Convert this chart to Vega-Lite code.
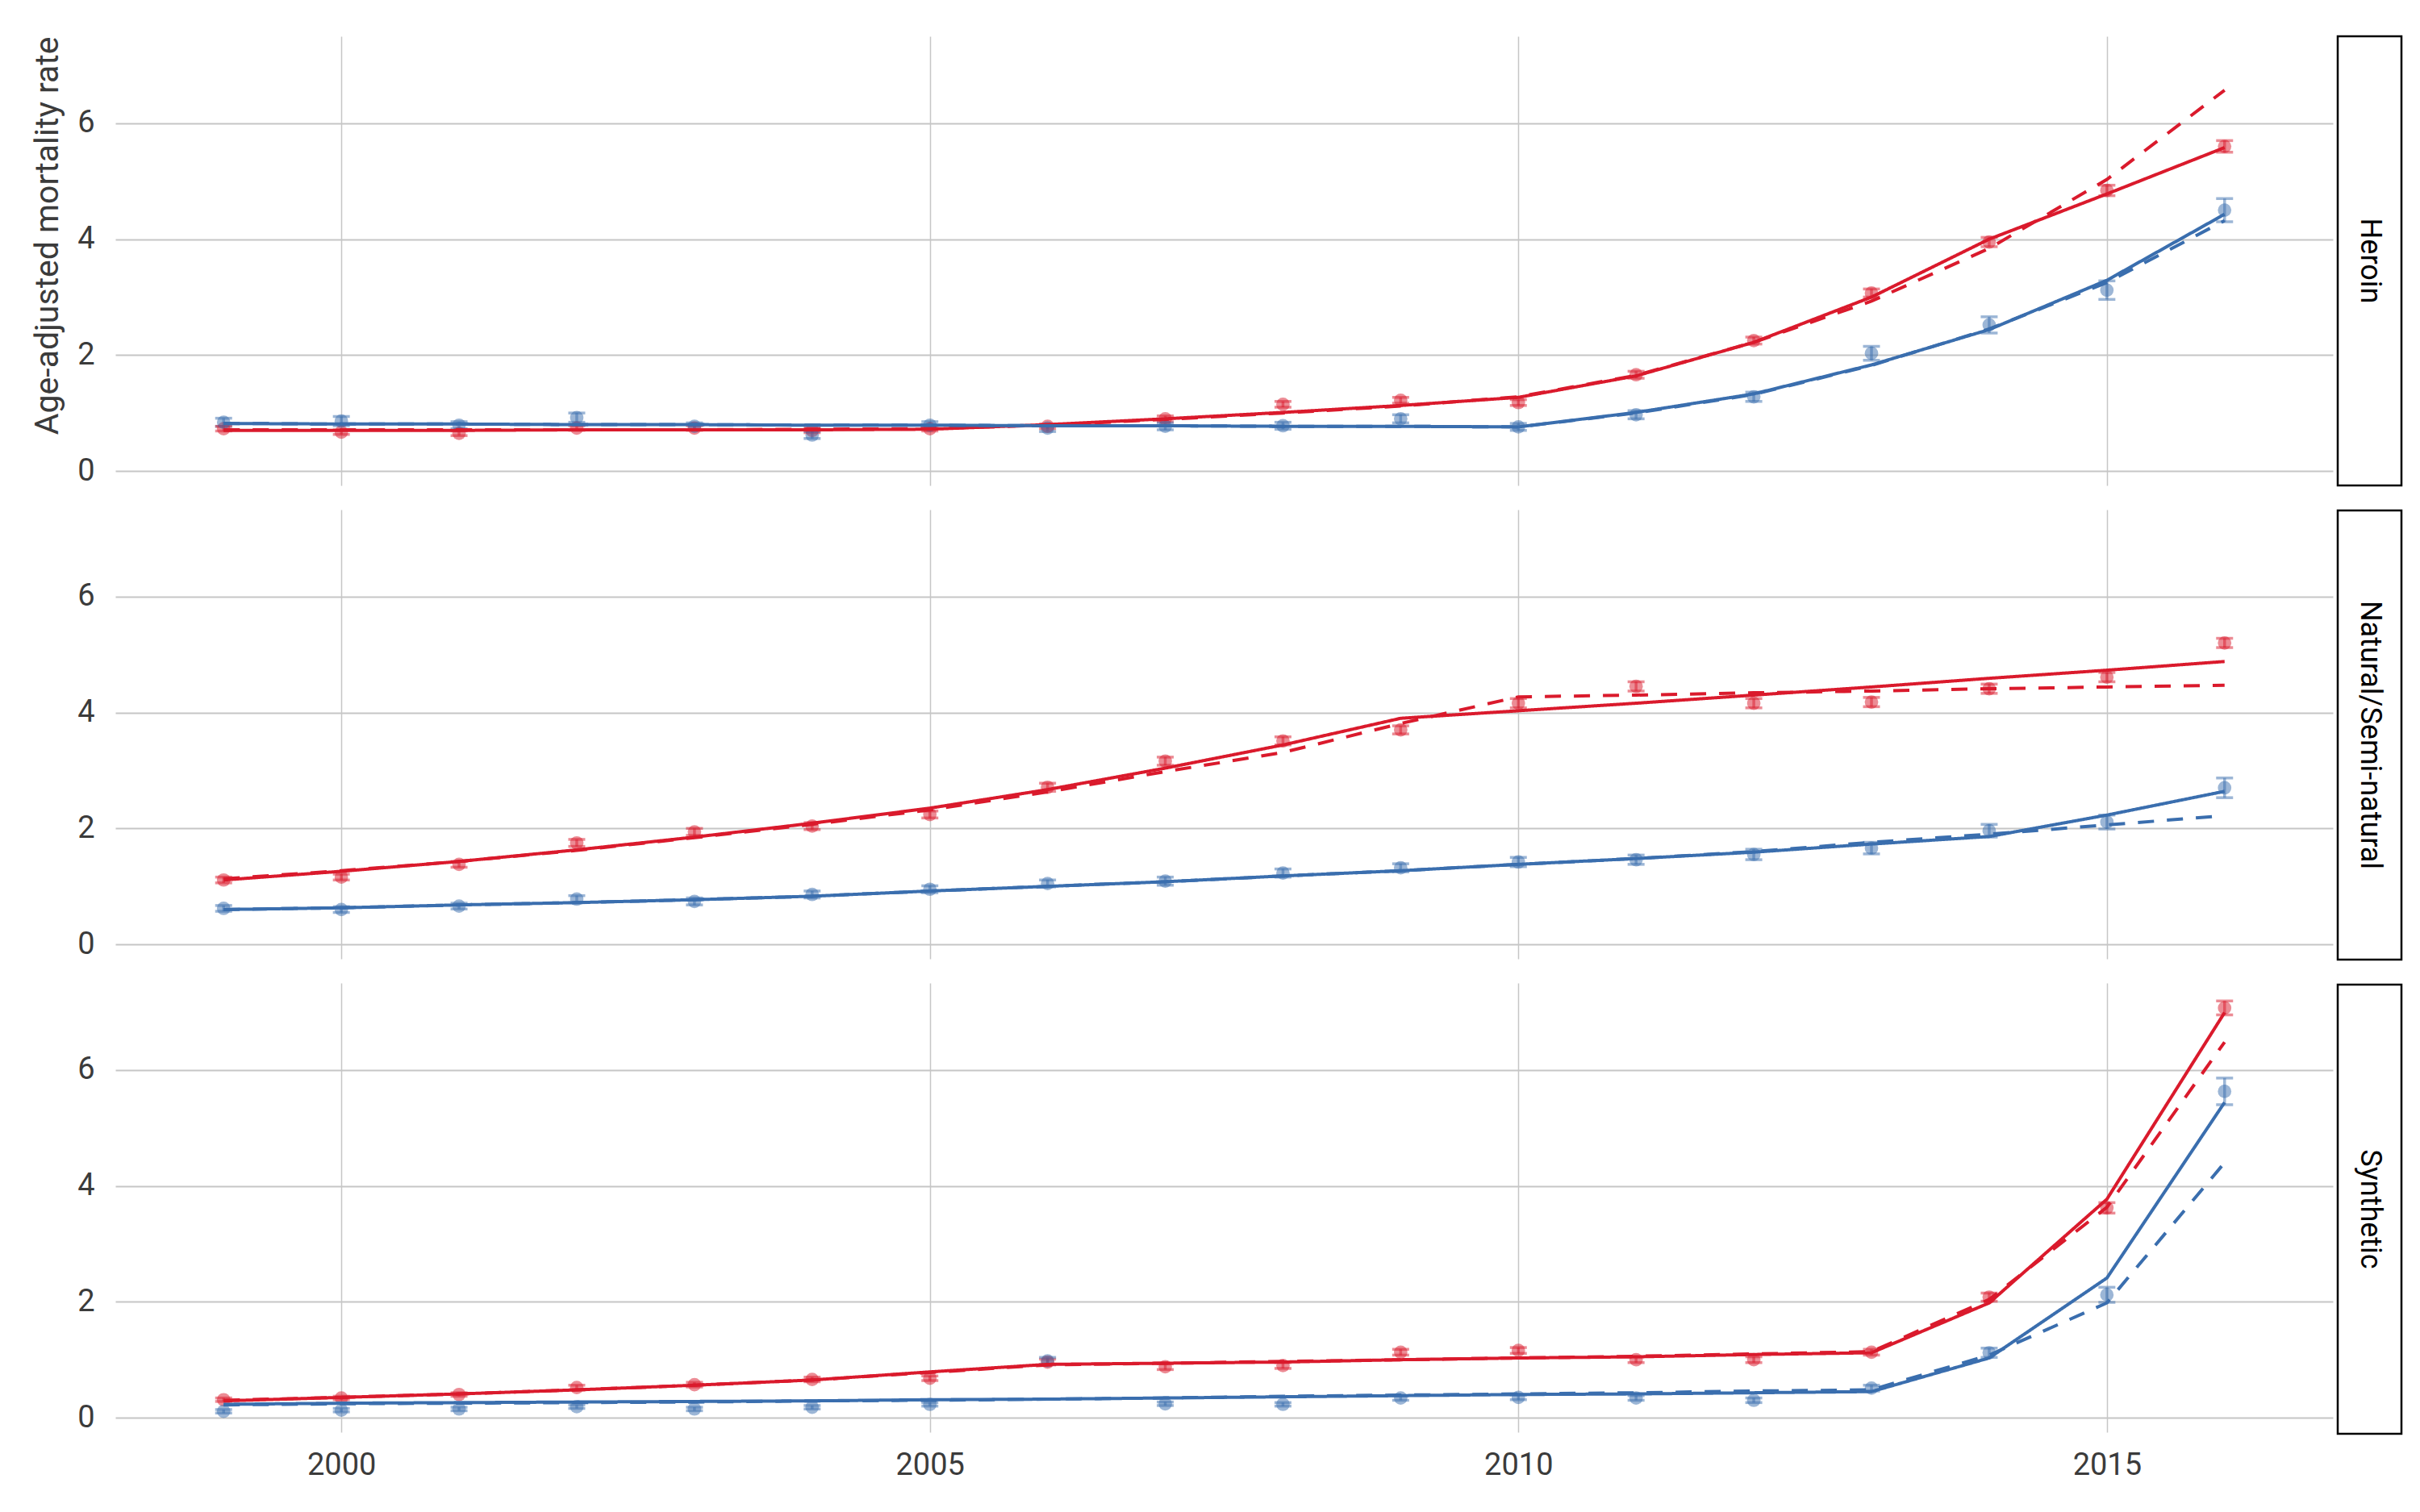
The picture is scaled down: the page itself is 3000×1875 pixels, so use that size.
{
  "$schema": "https://vega.github.io/schema/vega-lite/v6.json",
  "background": "white",
  "padding": {"left": 38, "top": 43, "right": 0, "bottom": 0},
  "datasets": {
    "panels": [
      {"drug": "Heroin"},
      {"drug": "Natural/Semi-natural"},
      {"drug": "Synthetic"}
    ],
    "rates": [
      {"drug": "Heroin", "sex": "Male", "year": 1999, "rate": 0.73, "lo": 0.69, "hi": 0.77, "fit1": 0.70, "fit2": 0.71},
      {"drug": "Heroin", "sex": "Male", "year": 2000, "rate": 0.67, "lo": 0.63, "hi": 0.71, "fit1": 0.70, "fit2": 0.71},
      {"drug": "Heroin", "sex": "Male", "year": 2001, "rate": 0.65, "lo": 0.61, "hi": 0.69, "fit1": 0.70, "fit2": 0.71},
      {"drug": "Heroin", "sex": "Male", "year": 2002, "rate": 0.74, "lo": 0.70, "hi": 0.78, "fit1": 0.71, "fit2": 0.71},
      {"drug": "Heroin", "sex": "Male", "year": 2003, "rate": 0.74, "lo": 0.70, "hi": 0.78, "fit1": 0.71, "fit2": 0.71},
      {"drug": "Heroin", "sex": "Male", "year": 2004, "rate": 0.70, "lo": 0.66, "hi": 0.74, "fit1": 0.71, "fit2": 0.72},
      {"drug": "Heroin", "sex": "Male", "year": 2005, "rate": 0.73, "lo": 0.69, "hi": 0.77, "fit1": 0.72, "fit2": 0.73},
      {"drug": "Heroin", "sex": "Male", "year": 2006, "rate": 0.77, "lo": 0.73, "hi": 0.81, "fit1": 0.80, "fit2": 0.79},
      {"drug": "Heroin", "sex": "Male", "year": 2007, "rate": 0.90, "lo": 0.85, "hi": 0.95, "fit1": 0.90, "fit2": 0.89},
      {"drug": "Heroin", "sex": "Male", "year": 2008, "rate": 1.15, "lo": 1.10, "hi": 1.20, "fit1": 1.01, "fit2": 1.00},
      {"drug": "Heroin", "sex": "Male", "year": 2009, "rate": 1.22, "lo": 1.17, "hi": 1.27, "fit1": 1.13, "fit2": 1.12},
      {"drug": "Heroin", "sex": "Male", "year": 2010, "rate": 1.18, "lo": 1.13, "hi": 1.23, "fit1": 1.27, "fit2": 1.28},
      {"drug": "Heroin", "sex": "Male", "year": 2011, "rate": 1.66, "lo": 1.60, "hi": 1.72, "fit1": 1.64, "fit2": 1.65},
      {"drug": "Heroin", "sex": "Male", "year": 2012, "rate": 2.25, "lo": 2.19, "hi": 2.31, "fit1": 2.22, "fit2": 2.22},
      {"drug": "Heroin", "sex": "Male", "year": 2013, "rate": 3.07, "lo": 3.00, "hi": 3.14, "fit1": 3.00, "fit2": 2.93},
      {"drug": "Heroin", "sex": "Male", "year": 2014, "rate": 3.95, "lo": 3.87, "hi": 4.03, "fit1": 4.00, "fit2": 3.84},
      {"drug": "Heroin", "sex": "Male", "year": 2015, "rate": 4.84, "lo": 4.75, "hi": 4.93, "fit1": 4.78, "fit2": 5.03},
      {"drug": "Heroin", "sex": "Male", "year": 2016, "rate": 5.60, "lo": 5.50, "hi": 5.70, "fit1": 5.58, "fit2": 6.57},
      {"drug": "Heroin", "sex": "Female", "year": 1999, "rate": 0.84, "lo": 0.77, "hi": 0.91, "fit1": 0.82, "fit2": 0.82},
      {"drug": "Heroin", "sex": "Female", "year": 2000, "rate": 0.86, "lo": 0.78, "hi": 0.94, "fit1": 0.81, "fit2": 0.81},
      {"drug": "Heroin", "sex": "Female", "year": 2001, "rate": 0.79, "lo": 0.73, "hi": 0.85, "fit1": 0.81, "fit2": 0.81},
      {"drug": "Heroin", "sex": "Female", "year": 2002, "rate": 0.92, "lo": 0.84, "hi": 1.00, "fit1": 0.80, "fit2": 0.80},
      {"drug": "Heroin", "sex": "Female", "year": 2003, "rate": 0.77, "lo": 0.71, "hi": 0.83, "fit1": 0.80, "fit2": 0.80},
      {"drug": "Heroin", "sex": "Female", "year": 2004, "rate": 0.62, "lo": 0.56, "hi": 0.68, "fit1": 0.79, "fit2": 0.79},
      {"drug": "Heroin", "sex": "Female", "year": 2005, "rate": 0.79, "lo": 0.73, "hi": 0.85, "fit1": 0.79, "fit2": 0.79},
      {"drug": "Heroin", "sex": "Female", "year": 2006, "rate": 0.74, "lo": 0.68, "hi": 0.80, "fit1": 0.78, "fit2": 0.78},
      {"drug": "Heroin", "sex": "Female", "year": 2007, "rate": 0.77, "lo": 0.71, "hi": 0.83, "fit1": 0.78, "fit2": 0.78},
      {"drug": "Heroin", "sex": "Female", "year": 2008, "rate": 0.78, "lo": 0.72, "hi": 0.84, "fit1": 0.77, "fit2": 0.77},
      {"drug": "Heroin", "sex": "Female", "year": 2009, "rate": 0.90, "lo": 0.83, "hi": 0.97, "fit1": 0.77, "fit2": 0.77},
      {"drug": "Heroin", "sex": "Female", "year": 2010, "rate": 0.76, "lo": 0.70, "hi": 0.82, "fit1": 0.76, "fit2": 0.76},
      {"drug": "Heroin", "sex": "Female", "year": 2011, "rate": 0.97, "lo": 0.90, "hi": 1.04, "fit1": 1.01, "fit2": 1.00},
      {"drug": "Heroin", "sex": "Female", "year": 2012, "rate": 1.28, "lo": 1.20, "hi": 1.36, "fit1": 1.33, "fit2": 1.32},
      {"drug": "Heroin", "sex": "Female", "year": 2013, "rate": 2.03, "lo": 1.91, "hi": 2.15, "fit1": 1.83, "fit2": 1.82},
      {"drug": "Heroin", "sex": "Female", "year": 2014, "rate": 2.52, "lo": 2.38, "hi": 2.66, "fit1": 2.44, "fit2": 2.45},
      {"drug": "Heroin", "sex": "Female", "year": 2015, "rate": 3.12, "lo": 2.96, "hi": 3.28, "fit1": 3.29, "fit2": 3.25},
      {"drug": "Heroin", "sex": "Female", "year": 2016, "rate": 4.50, "lo": 4.30, "hi": 4.70, "fit1": 4.43, "fit2": 4.32},
      {"drug": "Natural/Semi-natural", "sex": "Male", "year": 1999, "rate": 1.11, "lo": 1.06, "hi": 1.16, "fit1": 1.11, "fit2": 1.13},
      {"drug": "Natural/Semi-natural", "sex": "Male", "year": 2000, "rate": 1.16, "lo": 1.11, "hi": 1.21, "fit1": 1.26, "fit2": 1.27},
      {"drug": "Natural/Semi-natural", "sex": "Male", "year": 2001, "rate": 1.38, "lo": 1.33, "hi": 1.43, "fit1": 1.43, "fit2": 1.43},
      {"drug": "Natural/Semi-natural", "sex": "Male", "year": 2002, "rate": 1.75, "lo": 1.69, "hi": 1.81, "fit1": 1.63, "fit2": 1.62},
      {"drug": "Natural/Semi-natural", "sex": "Male", "year": 2003, "rate": 1.94, "lo": 1.88, "hi": 2.00, "fit1": 1.85, "fit2": 1.84},
      {"drug": "Natural/Semi-natural", "sex": "Male", "year": 2004, "rate": 2.04, "lo": 1.98, "hi": 2.10, "fit1": 2.09, "fit2": 2.07},
      {"drug": "Natural/Semi-natural", "sex": "Male", "year": 2005, "rate": 2.24, "lo": 2.18, "hi": 2.30, "fit1": 2.35, "fit2": 2.32},
      {"drug": "Natural/Semi-natural", "sex": "Male", "year": 2006, "rate": 2.71, "lo": 2.64, "hi": 2.78, "fit1": 2.67, "fit2": 2.63},
      {"drug": "Natural/Semi-natural", "sex": "Male", "year": 2007, "rate": 3.16, "lo": 3.09, "hi": 3.23, "fit1": 3.04, "fit2": 2.98},
      {"drug": "Natural/Semi-natural", "sex": "Male", "year": 2008, "rate": 3.51, "lo": 3.44, "hi": 3.58, "fit1": 3.44, "fit2": 3.31},
      {"drug": "Natural/Semi-natural", "sex": "Male", "year": 2009, "rate": 3.70, "lo": 3.63, "hi": 3.77, "fit1": 3.90, "fit2": 3.81},
      {"drug": "Natural/Semi-natural", "sex": "Male", "year": 2010, "rate": 4.16, "lo": 4.08, "hi": 4.24, "fit1": 4.03, "fit2": 4.27},
      {"drug": "Natural/Semi-natural", "sex": "Male", "year": 2011, "rate": 4.45, "lo": 4.37, "hi": 4.53, "fit1": 4.16, "fit2": 4.30},
      {"drug": "Natural/Semi-natural", "sex": "Male", "year": 2012, "rate": 4.16, "lo": 4.08, "hi": 4.24, "fit1": 4.30, "fit2": 4.34},
      {"drug": "Natural/Semi-natural", "sex": "Male", "year": 2013, "rate": 4.18, "lo": 4.10, "hi": 4.26, "fit1": 4.44, "fit2": 4.37},
      {"drug": "Natural/Semi-natural", "sex": "Male", "year": 2014, "rate": 4.41, "lo": 4.33, "hi": 4.49, "fit1": 4.59, "fit2": 4.41},
      {"drug": "Natural/Semi-natural", "sex": "Male", "year": 2015, "rate": 4.61, "lo": 4.53, "hi": 4.69, "fit1": 4.73, "fit2": 4.44},
      {"drug": "Natural/Semi-natural", "sex": "Male", "year": 2016, "rate": 5.20, "lo": 5.12, "hi": 5.28, "fit1": 4.88, "fit2": 4.47},
      {"drug": "Natural/Semi-natural", "sex": "Female", "year": 1999, "rate": 0.62, "lo": 0.57, "hi": 0.67, "fit1": 0.60, "fit2": 0.60},
      {"drug": "Natural/Semi-natural", "sex": "Female", "year": 2000, "rate": 0.60, "lo": 0.55, "hi": 0.65, "fit1": 0.63, "fit2": 0.63},
      {"drug": "Natural/Semi-natural", "sex": "Female", "year": 2001, "rate": 0.66, "lo": 0.61, "hi": 0.71, "fit1": 0.68, "fit2": 0.68},
      {"drug": "Natural/Semi-natural", "sex": "Female", "year": 2002, "rate": 0.78, "lo": 0.72, "hi": 0.84, "fit1": 0.72, "fit2": 0.72},
      {"drug": "Natural/Semi-natural", "sex": "Female", "year": 2003, "rate": 0.74, "lo": 0.68, "hi": 0.80, "fit1": 0.77, "fit2": 0.77},
      {"drug": "Natural/Semi-natural", "sex": "Female", "year": 2004, "rate": 0.86, "lo": 0.80, "hi": 0.92, "fit1": 0.83, "fit2": 0.83},
      {"drug": "Natural/Semi-natural", "sex": "Female", "year": 2005, "rate": 0.95, "lo": 0.89, "hi": 1.01, "fit1": 0.92, "fit2": 0.92},
      {"drug": "Natural/Semi-natural", "sex": "Female", "year": 2006, "rate": 1.05, "lo": 0.99, "hi": 1.11, "fit1": 1.00, "fit2": 1.00},
      {"drug": "Natural/Semi-natural", "sex": "Female", "year": 2007, "rate": 1.09, "lo": 1.02, "hi": 1.16, "fit1": 1.08, "fit2": 1.08},
      {"drug": "Natural/Semi-natural", "sex": "Female", "year": 2008, "rate": 1.23, "lo": 1.16, "hi": 1.30, "fit1": 1.18, "fit2": 1.18},
      {"drug": "Natural/Semi-natural", "sex": "Female", "year": 2009, "rate": 1.32, "lo": 1.25, "hi": 1.39, "fit1": 1.27, "fit2": 1.27},
      {"drug": "Natural/Semi-natural", "sex": "Female", "year": 2010, "rate": 1.42, "lo": 1.34, "hi": 1.50, "fit1": 1.38, "fit2": 1.38},
      {"drug": "Natural/Semi-natural", "sex": "Female", "year": 2011, "rate": 1.46, "lo": 1.38, "hi": 1.54, "fit1": 1.48, "fit2": 1.48},
      {"drug": "Natural/Semi-natural", "sex": "Female", "year": 2012, "rate": 1.55, "lo": 1.46, "hi": 1.64, "fit1": 1.59, "fit2": 1.60},
      {"drug": "Natural/Semi-natural", "sex": "Female", "year": 2013, "rate": 1.66, "lo": 1.56, "hi": 1.76, "fit1": 1.73, "fit2": 1.76},
      {"drug": "Natural/Semi-natural", "sex": "Female", "year": 2014, "rate": 1.96, "lo": 1.85, "hi": 2.07, "fit1": 1.86, "fit2": 1.90},
      {"drug": "Natural/Semi-natural", "sex": "Female", "year": 2015, "rate": 2.11, "lo": 1.99, "hi": 2.23, "fit1": 2.23, "fit2": 2.06},
      {"drug": "Natural/Semi-natural", "sex": "Female", "year": 2016, "rate": 2.70, "lo": 2.53, "hi": 2.87, "fit1": 2.64, "fit2": 2.22},
      {"drug": "Synthetic", "sex": "Male", "year": 1999, "rate": 0.31, "lo": 0.28, "hi": 0.34, "fit1": 0.29, "fit2": 0.30},
      {"drug": "Synthetic", "sex": "Male", "year": 2000, "rate": 0.34, "lo": 0.31, "hi": 0.37, "fit1": 0.35, "fit2": 0.35},
      {"drug": "Synthetic", "sex": "Male", "year": 2001, "rate": 0.40, "lo": 0.37, "hi": 0.43, "fit1": 0.41, "fit2": 0.41},
      {"drug": "Synthetic", "sex": "Male", "year": 2002, "rate": 0.52, "lo": 0.48, "hi": 0.56, "fit1": 0.48, "fit2": 0.48},
      {"drug": "Synthetic", "sex": "Male", "year": 2003, "rate": 0.57, "lo": 0.53, "hi": 0.61, "fit1": 0.56, "fit2": 0.56},
      {"drug": "Synthetic", "sex": "Male", "year": 2004, "rate": 0.66, "lo": 0.62, "hi": 0.70, "fit1": 0.65, "fit2": 0.65},
      {"drug": "Synthetic", "sex": "Male", "year": 2005, "rate": 0.68, "lo": 0.64, "hi": 0.72, "fit1": 0.79, "fit2": 0.78},
      {"drug": "Synthetic", "sex": "Male", "year": 2006, "rate": 0.96, "lo": 0.91, "hi": 1.01, "fit1": 0.92, "fit2": 0.91},
      {"drug": "Synthetic", "sex": "Male", "year": 2007, "rate": 0.88, "lo": 0.83, "hi": 0.93, "fit1": 0.94, "fit2": 0.94},
      {"drug": "Synthetic", "sex": "Male", "year": 2008, "rate": 0.90, "lo": 0.85, "hi": 0.95, "fit1": 0.96, "fit2": 0.97},
      {"drug": "Synthetic", "sex": "Male", "year": 2009, "rate": 1.13, "lo": 1.08, "hi": 1.18, "fit1": 1.00, "fit2": 1.00},
      {"drug": "Synthetic", "sex": "Male", "year": 2010, "rate": 1.16, "lo": 1.11, "hi": 1.21, "fit1": 1.03, "fit2": 1.03},
      {"drug": "Synthetic", "sex": "Male", "year": 2011, "rate": 1.00, "lo": 0.95, "hi": 1.05, "fit1": 1.05, "fit2": 1.06},
      {"drug": "Synthetic", "sex": "Male", "year": 2012, "rate": 1.00, "lo": 0.95, "hi": 1.05, "fit1": 1.09, "fit2": 1.10},
      {"drug": "Synthetic", "sex": "Male", "year": 2013, "rate": 1.13, "lo": 1.08, "hi": 1.18, "fit1": 1.12, "fit2": 1.14},
      {"drug": "Synthetic", "sex": "Male", "year": 2014, "rate": 2.08, "lo": 2.01, "hi": 2.15, "fit1": 1.98, "fit2": 2.04},
      {"drug": "Synthetic", "sex": "Male", "year": 2015, "rate": 3.62, "lo": 3.53, "hi": 3.71, "fit1": 3.77, "fit2": 3.63},
      {"drug": "Synthetic", "sex": "Male", "year": 2016, "rate": 7.07, "lo": 6.95, "hi": 7.19, "fit1": 6.99, "fit2": 6.48},
      {"drug": "Synthetic", "sex": "Female", "year": 1999, "rate": 0.11, "lo": 0.08, "hi": 0.14, "fit1": 0.23, "fit2": 0.22},
      {"drug": "Synthetic", "sex": "Female", "year": 2000, "rate": 0.13, "lo": 0.10, "hi": 0.16, "fit1": 0.25, "fit2": 0.24},
      {"drug": "Synthetic", "sex": "Female", "year": 2001, "rate": 0.15, "lo": 0.12, "hi": 0.18, "fit1": 0.26, "fit2": 0.25},
      {"drug": "Synthetic", "sex": "Female", "year": 2002, "rate": 0.19, "lo": 0.16, "hi": 0.22, "fit1": 0.27, "fit2": 0.26},
      {"drug": "Synthetic", "sex": "Female", "year": 2003, "rate": 0.15, "lo": 0.12, "hi": 0.18, "fit1": 0.28, "fit2": 0.27},
      {"drug": "Synthetic", "sex": "Female", "year": 2004, "rate": 0.18, "lo": 0.15, "hi": 0.21, "fit1": 0.29, "fit2": 0.29},
      {"drug": "Synthetic", "sex": "Female", "year": 2005, "rate": 0.23, "lo": 0.20, "hi": 0.26, "fit1": 0.31, "fit2": 0.30},
      {"drug": "Synthetic", "sex": "Female", "year": 2006, "rate": 0.98, "lo": 0.92, "hi": 1.04, "fit1": 0.32, "fit2": 0.32},
      {"drug": "Synthetic", "sex": "Female", "year": 2007, "rate": 0.24, "lo": 0.21, "hi": 0.27, "fit1": 0.34, "fit2": 0.34},
      {"drug": "Synthetic", "sex": "Female", "year": 2008, "rate": 0.23, "lo": 0.20, "hi": 0.26, "fit1": 0.36, "fit2": 0.37},
      {"drug": "Synthetic", "sex": "Female", "year": 2009, "rate": 0.34, "lo": 0.30, "hi": 0.38, "fit1": 0.38, "fit2": 0.39},
      {"drug": "Synthetic", "sex": "Female", "year": 2010, "rate": 0.35, "lo": 0.31, "hi": 0.39, "fit1": 0.40, "fit2": 0.41},
      {"drug": "Synthetic", "sex": "Female", "year": 2011, "rate": 0.34, "lo": 0.30, "hi": 0.38, "fit1": 0.41, "fit2": 0.43},
      {"drug": "Synthetic", "sex": "Female", "year": 2012, "rate": 0.30, "lo": 0.26, "hi": 0.34, "fit1": 0.43, "fit2": 0.46},
      {"drug": "Synthetic", "sex": "Female", "year": 2013, "rate": 0.51, "lo": 0.46, "hi": 0.56, "fit1": 0.45, "fit2": 0.48},
      {"drug": "Synthetic", "sex": "Female", "year": 2014, "rate": 1.12, "lo": 1.04, "hi": 1.20, "fit1": 1.03, "fit2": 1.08},
      {"drug": "Synthetic", "sex": "Female", "year": 2015, "rate": 2.12, "lo": 1.99, "hi": 2.25, "fit1": 2.41, "fit2": 1.98},
      {"drug": "Synthetic", "sex": "Female", "year": 2016, "rate": 5.63, "lo": 5.40, "hi": 5.86, "fit1": 5.44, "fit2": 4.40}
    ]
  },
  "config": {
    "view": {"stroke": null},
    "font": "Roboto",
    "axis": {
      "labelFont": "Roboto",
      "labelFontSize": 38,
      "labelColor": "#3b3b3b",
      "titleFont": "Roboto",
      "titleFontSize": 41,
      "titleFontWeight": "normal",
      "titleColor": "#3b3b3b",
      "ticks": false,
      "domain": false,
      "gridColor": "#c6c6c6"
    },
    "axisY": {"gridWidth": 2, "labelPadding": 26, "titlePadding": 15, "format": "d"},
    "axisX": {"gridWidth": 1.5, "labelPadding": 22}
  },
  "spacing": 4,
  "hconcat": [
    {
      "spacing": 27,
      "vconcat": [
        {
          "width": 2749,
          "height": 557,
          "data": {"name": "rates"},
          "transform": [{"filter": "datum.drug === 'Heroin'"}],
          "encoding": {
            "x": {"field": "year", "type": "quantitative", "scale": {"domain": [1998.08, 2016.92], "nice": false, "zero": false}, "axis": {"values": [2000, 2005, 2010, 2015], "labels": false, "title": null, "grid": true}},
            "color": {"field": "sex", "type": "nominal", "scale": {"domain": ["Male", "Female"], "range": ["#da1a2c", "#3a6eae"]}, "legend": null}
          },
          "layer": [
            {
              "mark": {"type": "errorbar", "ticks": true, "size": 21, "thickness": 3.5, "opacity": 0.5},
              "encoding": {
                "y": {"field": "lo", "type": "quantitative", "scale": {"domain": [-0.25, 7.5], "nice": false, "zero": false}, "axis": {"values": [0, 2, 4, 6], "title": "Age-adjusted mortality rate", "titleAnchor": "end", "grid": true}},
                "y2": {"field": "hi"}
              }
            },
            {
              "mark": {"type": "point", "filled": true, "size": 280, "opacity": 0.5},
              "encoding": {"y": {"field": "rate", "type": "quantitative"}}
            },
            {
              "transform": [{"fold": ["fit1", "fit2"], "as": ["model", "value"]}],
              "mark": {"type": "line", "strokeWidth": 4},
              "encoding": {
                "y": {"field": "value", "type": "quantitative"},
                "strokeDash": {"field": "model", "type": "nominal", "scale": {"domain": ["fit1", "fit2"], "range": [[1, 0], [20, 16]]}, "legend": null}
              }
            }
          ]
        },
        {
          "width": 2749,
          "height": 557,
          "data": {"name": "rates"},
          "transform": [{"filter": "datum.drug === 'Natural/Semi-natural'"}],
          "encoding": {
            "x": {"field": "year", "type": "quantitative", "scale": {"domain": [1998.08, 2016.92], "nice": false, "zero": false}, "axis": {"values": [2000, 2005, 2010, 2015], "labels": false, "title": null, "grid": true}},
            "color": {"field": "sex", "type": "nominal", "scale": {"domain": ["Male", "Female"], "range": ["#da1a2c", "#3a6eae"]}, "legend": null}
          },
          "layer": [
            {
              "mark": {"type": "errorbar", "ticks": true, "size": 21, "thickness": 3.5, "opacity": 0.5},
              "encoding": {
                "y": {"field": "lo", "type": "quantitative", "scale": {"domain": [-0.25, 7.5], "nice": false, "zero": false}, "axis": {"values": [0, 2, 4, 6], "title": "Age-adjusted mortality rate", "titleOpacity": 0, "titleAnchor": "end", "grid": true}},
                "y2": {"field": "hi"}
              }
            },
            {
              "mark": {"type": "point", "filled": true, "size": 280, "opacity": 0.5},
              "encoding": {"y": {"field": "rate", "type": "quantitative"}}
            },
            {
              "transform": [{"fold": ["fit1", "fit2"], "as": ["model", "value"]}],
              "mark": {"type": "line", "strokeWidth": 4},
              "encoding": {
                "y": {"field": "value", "type": "quantitative"},
                "strokeDash": {"field": "model", "type": "nominal", "scale": {"domain": ["fit1", "fit2"], "range": [[1, 0], [20, 16]]}, "legend": null}
              }
            }
          ]
        },
        {
          "width": 2749,
          "height": 557,
          "data": {"name": "rates"},
          "transform": [{"filter": "datum.drug === 'Synthetic'"}],
          "encoding": {
            "x": {"field": "year", "type": "quantitative", "scale": {"domain": [1998.08, 2016.92], "nice": false, "zero": false}, "axis": {"values": [2000, 2005, 2010, 2015], "format": "d", "title": null, "grid": true}},
            "color": {"field": "sex", "type": "nominal", "scale": {"domain": ["Male", "Female"], "range": ["#da1a2c", "#3a6eae"]}, "legend": null}
          },
          "layer": [
            {
              "mark": {"type": "errorbar", "ticks": true, "size": 21, "thickness": 3.5, "opacity": 0.5},
              "encoding": {
                "y": {"field": "lo", "type": "quantitative", "scale": {"domain": [-0.25, 7.5], "nice": false, "zero": false}, "axis": {"values": [0, 2, 4, 6], "title": "Age-adjusted mortality rate", "titleOpacity": 0, "titleAnchor": "end", "grid": true}},
                "y2": {"field": "hi"}
              }
            },
            {
              "mark": {"type": "point", "filled": true, "size": 280, "opacity": 0.5},
              "encoding": {"y": {"field": "rate", "type": "quantitative"}}
            },
            {
              "transform": [{"fold": ["fit1", "fit2"], "as": ["model", "value"]}],
              "mark": {"type": "line", "strokeWidth": 4},
              "encoding": {
                "y": {"field": "value", "type": "quantitative"},
                "strokeDash": {"field": "model", "type": "nominal", "scale": {"domain": ["fit1", "fit2"], "range": [[1, 0], [20, 16]]}, "legend": null}
              }
            }
          ]
        }
      ]
    },
    {
      "spacing": 27,
      "vconcat": [
        {
          "width": 79,
          "height": 557,
          "view": {"stroke": "black", "strokeWidth": 2.5},
          "data": {"name": "panels"},
          "transform": [{"filter": "datum.drug === 'Heroin'"}],
          "mark": {"type": "text", "angle": 90, "fontSize": 36, "color": "black"},
          "encoding": {"text": {"field": "drug", "type": "nominal"}}
        },
        {
          "width": 79,
          "height": 557,
          "view": {"stroke": "black", "strokeWidth": 2.5},
          "data": {"name": "panels"},
          "transform": [{"filter": "datum.drug === 'Natural/Semi-natural'"}],
          "mark": {"type": "text", "angle": 90, "fontSize": 36, "color": "black"},
          "encoding": {"text": {"field": "drug", "type": "nominal"}}
        },
        {
          "width": 79,
          "height": 557,
          "view": {"stroke": "black", "strokeWidth": 2.5},
          "data": {"name": "panels"},
          "transform": [{"filter": "datum.drug === 'Synthetic'"}],
          "mark": {"type": "text", "angle": 90, "fontSize": 36, "color": "black"},
          "encoding": {"text": {"field": "drug", "type": "nominal"}}
        }
      ]
    }
  ]
}
